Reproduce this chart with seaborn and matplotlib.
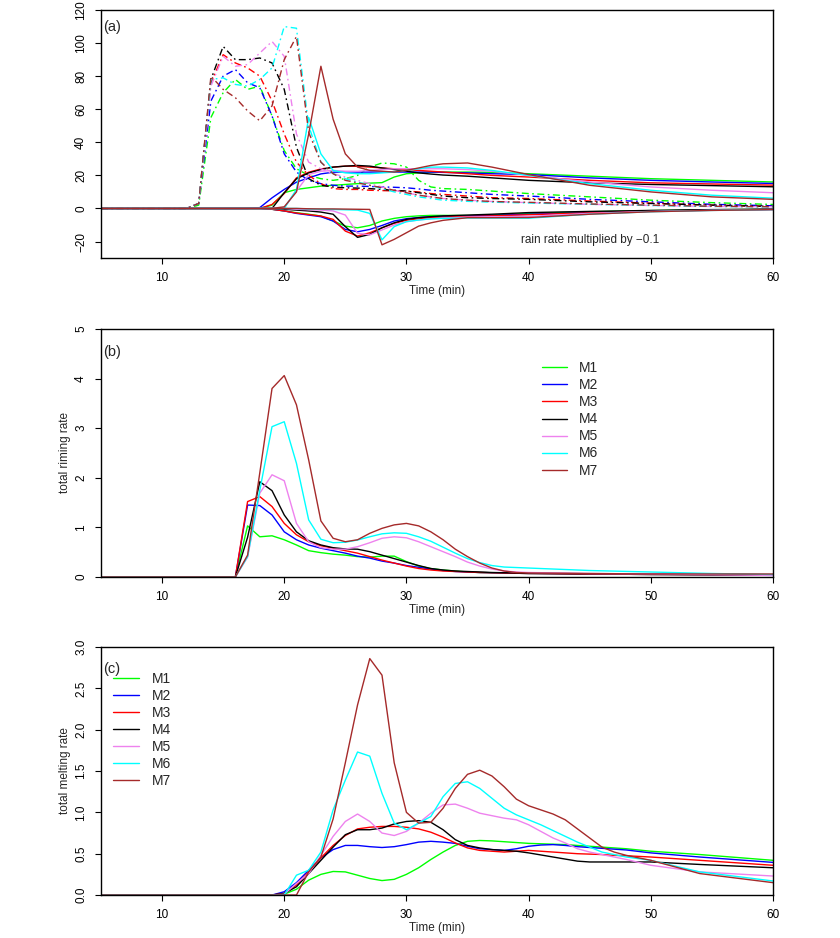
import numpy as np
import pandas as pd
import matplotlib
matplotlib.use("Agg")
import matplotlib.pyplot as plt
import seaborn as sns

sns.set_theme(style="ticks")
plt.rcParams['font.family'] = ['Liberation Sans', 'DejaVu Sans']
plt.rcParams['axes.unicode_minus'] = True

models = ['M1', 'M2', 'M3', 'M4', 'M5', 'M6', 'M7']
colors = ['#00FF00', '#0000FF', '#FF0000', '#000000', '#EE82EE', '#00FFFF', '#A52A2A']

# ---- panel (a): time axis (min)
t_a = [5, 12, 13, 14, 15, 16, 17, 18, 19, 20, 21, 22, 23, 24, 25, 26, 27, 28, 29, 30,
       31, 32, 33, 35, 37, 40, 45, 50, 55, 60]

# solid lines (positive)
sol_m1 = [0, 0, 0, 0, 0, 0, 0, 0, 2, 9.5, 11.5, 12.5, 13.5, 14, 14.5, 15, 15.3, 15.6, 19, 21,
          21.5, 22, 22, 22, 21.8, 21, 19.5, 18, 17, 16]
sol_m2 = [0, 0, 0, 0, 0, 0, 0, 0.5, 6.4, 11.5, 15.9, 18.5, 20.9, 21.9, 22.1, 22, 22, 22, 22, 22,
          22, 22, 21.8, 21.5, 21, 20.5, 18.5, 17, 16, 15.1]
sol_m3 = [0, 0, 0, 0, 0, 0, 0, 0, 2.4, 9, 18.5, 21.9, 23.9, 25, 25.6, 25.5, 25, 24.5, 24, 23.5,
          23, 22.5, 22, 21, 20, 19, 17, 15.5, 14.8, 14.1]
sol_m4 = [0, 0, 0, 0, 0, 0, 0, 0, 0, 9.5, 17.9, 21.5, 23.5, 25, 25.6, 26, 25.6, 24.5, 23.5, 22.5,
          21.5, 20.8, 20.2, 19.5, 18.5, 17, 15.5, 14.5, 13.8, 13.1]
sol_m5 = [0, 0, 0, 0, 0, 0, 0, 0, 0, 0.4, 10.5, 20.5, 22.5, 23, 22.5, 22.5, 23, 23.5, 24, 24,
          24, 24, 24, 23.5, 22.5, 20, 16, 13, 11, 9.5]
sol_m6 = [0, 0, 0, 0, 0, 0, 0, 0, 0, 0, 11.5, 55, 33, 23, 21.5, 21, 21, 21.5, 22, 23,
          24, 25, 25, 24.5, 23, 20, 15, 11, 8, 6.2]
sol_m7 = [0, 0, 0, 0, 0, 0, 0, 0, 0, 1, 10, 45, 86, 54, 33, 25, 23, 22.5, 22, 23,
          24.5, 26, 27, 27.5, 25, 20.5, 14, 10, 7, 5.5]

# dash-dot lines
dd_m1 = [0, 0, 2, 55, 70, 78, 72, 74, 56, 35, 24, 20, 18, 17, 18, 20, 25, 27.5, 27, 25,
         17, 13, 12, 11.5, 10.5, 9, 7, 5, 3.5, 2.4]
dd_m2 = [0, 0, 3, 65, 80, 84, 76, 73, 56, 33, 22, 17, 15, 14, 13.5, 13.5, 13.3, 13, 12.8, 12.5,
         11.8, 11, 10.5, 9.5, 8.5, 7.5, 5.5, 4, 2.5, 1.6]
dd_m3 = [0, 0, 3, 76, 93, 88, 85, 80, 65, 45, 28, 20, 15, 12, 11.5, 11.5, 11, 10.8, 10.6, 10.5,
         10, 9, 8.5, 7.5, 6.5, 6, 4.5, 3.2, 2, 1.2]
dd_m4 = [0, 0, 3, 78, 98, 90, 90, 91, 88, 72, 37, 18, 14, 13, 12.5, 12.3, 12, 11.5, 11, 10.5,
         9.5, 8.5, 7.5, 6.5, 6, 5.5, 4, 3, 2, 1.2]
dd_m5 = [0, 0, 3, 74, 92, 86, 87, 94, 101, 92, 45, 28, 24, 21, 19, 17, 15, 13, 11, 9.5,
         8, 7, 6, 5, 4.2, 3.5, 2.5, 1.8, 1.2, 1]
dd_m6 = [0, 0, 3, 78, 79, 75, 74, 78, 85, 110, 109, 50, 28, 21, 18, 16, 14, 12, 10, 8.5,
         7, 6, 5, 4.3, 3.8, 3.3, 2.5, 1.8, 1.2, 1]
dd_m7 = [0, 0, 3, 80, 72, 67, 59, 53, 62, 90, 104, 46, 28, 21, 17, 15.5, 14, 12.5, 11, 9.5,
         8, 7, 6, 5, 4.2, 3.7, 2.7, 2, 1.3, 1]

# rain rate x (-0.1)
rain_m1 = [0, 0, 0, 0, 0, 0, 0, 0, -0.5, -1.5, -2.6, -3.5, -4.6, -7.6, -10.7, -11.7, -10.3, -7.6, -6, -5,
           -4.5, -4.2, -4.2, -4.3, -4, -3, -2, -1.3, -0.8, -0.5]
rain_m2 = [0, 0, 0, 0, 0, 0, 0, 0, -0.5, -1.5, -3, -4, -5, -7.6, -12.7, -14.1, -12.7, -10.3, -7.6, -6.2,
           -5.5, -5, -4.8, -4.5, -4.2, -3.5, -2.5, -1.5, -1, -0.6]
rain_m3 = [0, 0, 0, 0, 0, 0, 0, 0, -0.5, -1.5, -2.8, -3.7, -4.6, -6.6, -13.7, -16.7, -14.7, -11.7, -9, -7.2,
           -6.3, -5.6, -5.2, -4.8, -4.5, -3.8, -2.6, -1.6, -1, -0.6]
rain_m4 = [0, 0, 0, 0, 0, 0, 0, 0, 0, -0.5, -1, -1.5, -2.2, -3.5, -11, -17.5, -15.7, -11.7, -8.7, -6.6,
           -5.6, -5, -4.5, -4, -3.5, -2.5, -1.8, -1.2, -0.7, -0.4]
rain_m5 = [0, 0, 0, 0, 0, 0, 0, 0, 0, 0, -0.5, -0.8, -1, -1.5, -4, -15, -16, -13, -10, -8,
           -7, -6.2, -5.8, -5.2, -5, -4.8, -3, -1.8, -1.1, -0.6]
rain_m6 = [0, 0, 0, 0, 0, 0, 0, 0, 0, 0, 0, -0.3, -0.5, -0.6, -0.8, -1, -3, -19, -11, -8,
           -7, -6.3, -6, -5.8, -5.8, -5.9, -3.5, -2, -1.2, -0.7]
rain_m7 = [0, 0, 0, 0, 0, 0, 0, 0, 0, 0, 0, -0.2, -0.3, -0.3, -0.4, -0.5, -0.6, -22, -18.7, -14.7,
           -10.7, -8.7, -7.2, -5.6, -5.6, -5.5, -3.5, -2, -1.2, -0.7]

# ---- panel (b): total riming rate
t_b = [5, 15, 16] + list(range(17, 41)) + [45, 50, 55, 60]
rime_m1 = [0, 0, 0, 1.03, 0.81, 0.83, 0.75, 0.645, 0.53, 0.49, 0.46, 0.44, 0.41, 0.40, 0.42, 0.42,
           0.31, 0.22, 0.17, 0.14, 0.12, 0.10, 0.09, 0.085, 0.08, 0.075, 0.07, 0.06, 0.05, 0.045, 0.04]
rime_m2 = [0, 0, 0, 1.45, 1.44, 1.25, 0.91, 0.75, 0.645, 0.58, 0.53, 0.48, 0.42, 0.38, 0.32, 0.28,
           0.23, 0.195, 0.16, 0.13, 0.11, 0.10, 0.09, 0.085, 0.08, 0.075, 0.07, 0.06, 0.05, 0.045, 0.04]
rime_m3 = [0, 0, 0, 1.52, 1.62, 1.42, 1.08, 0.85, 0.71, 0.63, 0.58, 0.53, 0.48, 0.41, 0.34, 0.28,
           0.22, 0.17, 0.14, 0.12, 0.11, 0.10, 0.09, 0.085, 0.08, 0.075, 0.07, 0.06, 0.05, 0.045, 0.04]
rime_m4 = [0, 0, 0, 0.8, 1.92, 1.74, 1.25, 0.91, 0.73, 0.645, 0.59, 0.565, 0.56, 0.51, 0.44, 0.37,
           0.30, 0.23, 0.17, 0.14, 0.12, 0.11, 0.10, 0.09, 0.085, 0.08, 0.075, 0.065, 0.055, 0.05, 0.045]
rime_m5 = [0, 0, 0, 0.4, 1.69, 2.06, 1.94, 1.08, 0.71, 0.59, 0.56, 0.56, 0.61, 0.69, 0.78, 0.81,
           0.79, 0.71, 0.61, 0.51, 0.41, 0.30, 0.22, 0.16, 0.12, 0.10, 0.09, 0.07, 0.06, 0.05, 0.03]
rime_m6 = [0, 0, 0, 0.41, 1.75, 3.03, 3.13, 2.29, 1.15, 0.76, 0.69, 0.70, 0.745, 0.81, 0.87, 0.89,
           0.88, 0.81, 0.72, 0.60, 0.48, 0.37, 0.29, 0.23, 0.20, 0.19, 0.18, 0.13, 0.10, 0.07, 0.05]
rime_m7 = [0, 0, 0, 0.44, 2.1, 3.8, 4.06, 3.47, 2.36, 1.13, 0.78, 0.71, 0.75, 0.88, 0.98, 1.05,
           1.08, 1.03, 0.91, 0.75, 0.56, 0.41, 0.28, 0.18, 0.12, 0.09, 0.08, 0.07, 0.06, 0.06, 0.06]

# ---- panel (c): total melting rate
t_c = [5, 19] + list(range(20, 49)) + [50, 54, 60]
melt_m1 = [0, 0, 0.01, 0.07, 0.18, 0.25, 0.285, 0.28, 0.24, 0.20, 0.175, 0.19, 0.25, 0.33, 0.43, 0.52,
           0.60, 0.65, 0.66, 0.655, 0.645, 0.635, 0.625, 0.62, 0.615, 0.61, 0.60, 0.59, 0.58, 0.57, 0.56,
           0.53, 0.49, 0.42]
melt_m2 = [0, 0, 0.04, 0.15, 0.30, 0.45, 0.55, 0.60, 0.60, 0.585, 0.575, 0.585, 0.61, 0.64, 0.65, 0.64,
           0.625, 0.59, 0.56, 0.55, 0.54, 0.56, 0.59, 0.605, 0.61, 0.60, 0.585, 0.575, 0.565, 0.555, 0.545,
           0.51, 0.46, 0.395]
melt_m3 = [0, 0, 0.02, 0.12, 0.28, 0.45, 0.60, 0.72, 0.80, 0.82, 0.83, 0.83, 0.82, 0.80, 0.76, 0.70,
           0.63, 0.57, 0.54, 0.53, 0.52, 0.53, 0.54, 0.53, 0.52, 0.51, 0.50, 0.495, 0.49, 0.48, 0.475,
           0.46, 0.42, 0.36]
melt_m4 = [0, 0, 0.02, 0.10, 0.26, 0.42, 0.58, 0.73, 0.79, 0.79, 0.81, 0.86, 0.89, 0.90, 0.88, 0.79,
           0.67, 0.60, 0.57, 0.55, 0.54, 0.53, 0.51, 0.485, 0.46, 0.435, 0.41, 0.40, 0.40, 0.40, 0.40,
           0.40, 0.37, 0.33]
melt_m5 = [0, 0, 0.01, 0.14, 0.26, 0.48, 0.71, 0.89, 0.98, 0.89, 0.75, 0.72, 0.77, 0.87, 0.99, 1.09,
           1.10, 1.05, 0.99, 0.96, 0.93, 0.91, 0.85, 0.77, 0.69, 0.63, 0.56, 0.52, 0.49, 0.46, 0.43,
           0.36, 0.28, 0.23]
melt_m6 = [0, 0, 0, 0.24, 0.30, 0.52, 1.03, 1.39, 1.73, 1.68, 1.23, 0.87, 0.79, 0.87, 0.95, 1.19,
           1.35, 1.37, 1.29, 1.17, 1.05, 0.97, 0.91, 0.85, 0.78, 0.71, 0.64, 0.58, 0.52, 0.49, 0.46,
           0.42, 0.28, 0.17]
melt_m7 = [0, 0, 0, 0, 0.28, 0.46, 0.92, 1.6, 2.30, 2.86, 2.66, 1.6, 1.0, 0.87, 0.88, 1.05,
           1.29, 1.46, 1.51, 1.44, 1.31, 1.16, 1.08, 1.03, 0.98, 0.91, 0.80, 0.69, 0.58, 0.52, 0.48,
           0.42, 0.26, 0.15]

solid_a = [sol_m1, sol_m2, sol_m3, sol_m4, sol_m5, sol_m6, sol_m7]
dash_a = [dd_m1, dd_m2, dd_m3, dd_m4, dd_m5, dd_m6, dd_m7]
rain_a = [rain_m1, rain_m2, rain_m3, rain_m4, rain_m5, rain_m6, rain_m7]
rime = [rime_m1, rime_m2, rime_m3, rime_m4, rime_m5, rime_m6, rime_m7]
melt = [melt_m1, melt_m2, melt_m3, melt_m4, melt_m5, melt_m6, melt_m7]

DOTDASH = (0, (5, 2.5, 1.2, 2.5))


def style_axis(ax, ylim, yticks, ylabel=None):
    """R 风格的坐标轴"""
    ax.set_xlim(5, 60)
    ax.set_ylim(*ylim)
    ax.set_xticks([10, 20, 30, 40, 50, 60])
    ax.set_yticks(yticks)
    for s in ax.spines.values():
        s.set_visible(True)
        s.set_color('black')
        s.set_linewidth(1.0)
    ax.tick_params(axis='both', direction='out', length=4, width=0.8,
                   colors='black', labelsize=8.5, pad=6)
    ax.tick_params(axis='y', labelrotation=90)
    for lab in ax.get_yticklabels():
        lab.set_va('center')
    ax.set_xlabel('Time (min)', fontsize=8.5, labelpad=1)
    if ylabel:
        ax.set_ylabel(ylabel, fontsize=8.5, labelpad=3)
    else:
        ax.set_ylabel('')
    ax.set_facecolor('white')


fig = plt.figure(figsize=(8.4, 9.38), dpi=100, facecolor='white')
ax_a = fig.add_axes([0.1202, 0.7249, 0.8, 0.2644])
ax_b = fig.add_axes([0.1202, 0.3849, 0.8, 0.2644])
ax_c = fig.add_axes([0.1202, 0.0458, 0.8, 0.2644])

# (a)
for i in range(7):
    sns.lineplot(x=t_a, y=solid_a[i], color=colors[i], lw=1, ax=ax_a, legend=False)
    sns.lineplot(x=t_a, y=dash_a[i], color=colors[i], lw=1, linestyle=DOTDASH, ax=ax_a, legend=False)
    sns.lineplot(x=t_a, y=rain_a[i], color=colors[i], lw=1, ax=ax_a, legend=False)
style_axis(ax_a, (-30, 120), [-20, 0, 20, 40, 60, 80, 100, 120])
ax_a.text(5.15, 110, '(a)', fontsize=10.5, ha='left', va='center')
ax_a.text(45, -19.3, 'rain rate multiplied by \u22120.1', fontsize=8.5, ha='center', va='center')

# (b)
for i in range(7):
    sns.lineplot(x=t_b, y=rime[i], color=colors[i], lw=1, ax=ax_b, label=models[i])
style_axis(ax_b, (0, 5), [0, 1, 2, 3, 4, 5], 'total riming rate')
ax_b.text(5.15, 4.54, '(b)', fontsize=10.5, ha='left', va='center')
ax_b.legend(loc='upper left', bbox_to_anchor=(0.656, 0.87), frameon=False, fontsize=10,
            handlelength=1.8, handletextpad=0.9, labelspacing=0.22, borderpad=0, borderaxespad=0)

# (c)
for i in range(7):
    sns.lineplot(x=t_c, y=melt[i], color=colors[i], lw=1, ax=ax_c, label=models[i])
style_axis(ax_c, (0, 3), [0.0, 0.5, 1.0, 1.5, 2.0, 2.5, 3.0], 'total melting rate')
ax_c.set_yticklabels(['0.0', '0.5', '1.0', '1.5', '2.0', '2.5', '3.0'])
for lab in ax_c.get_yticklabels():
    lab.set_va('center')
ax_c.text(5.15, 2.73, '(c)', fontsize=10.5, ha='left', va='center')
ax_c.legend(loc='upper left', bbox_to_anchor=(0.018, 0.90), frameon=False, fontsize=10,
            handlelength=1.9, handletextpad=0.9, labelspacing=0.22, borderpad=0, borderaxespad=0)

fig.savefig('out.png', dpi=100, facecolor='white')
